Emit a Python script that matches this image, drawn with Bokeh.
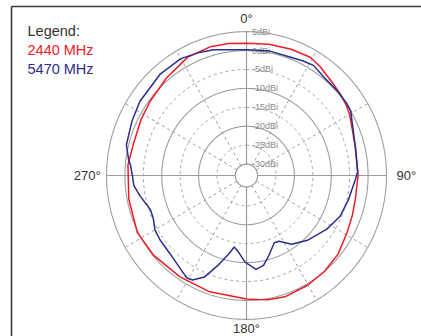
import numpy as np
from bokeh.plotting import figure
from bokeh.models import Range1d
from bokeh.core.properties import value
from bokeh.embed import file_html
from bokeh.resources import INLINE

# ---------------- data ----------------
red_angle = [0, 10, 20, 29, 35, 44, 50, 55, 60, 67, 75, 80, 90, 102, 110, 119,
             130, 140, 150, 162, 170, 175, 180, 198, 214, 230, 243, 259, 275,
             285, 297, 307, 320, 333, 344, 352]
red_db = [1.9, 2.2, 2.5, 2.7, 2.0, 0.8, 0.3, -0.1, -0.7, -1.8, -2.5, -2.8, -2.7,
          -2.8, -2.4, -1.8, -0.6, 0.0, 0.4, 0.7, 0.3, -0.1, -0.4, -0.7, -0.7,
          -0.15, 0.25, -0.45, -0.7, -1.2, -0.8, -0.3, 0.7, 2.1, 2.4, 2.2]

blue_angle = [0, 11, 21, 27, 32, 39, 48, 55, 59, 63, 76, 88, 92, 97, 103, 113,
              123, 136, 146, 153, 157, 164, 169, 174, 181, 186, 190, 193, 198,
              203, 208, 211, 216, 225, 234, 240, 246, 251, 259, 265, 269, 275,
              277, 284, 295, 304, 319, 330, 339, 345, 351]
blue_db = [0.2, 0.47, 0.45, 0.96, 1.3, 0.4, 0.3, 0.2, 0.04, -0.9, -2.5, -2.8,
           -3.4, -4.1, -4.6, -5.4, -7.0, -9.2, -11.1, -13.5, -13.7, -11.0, -8.8,
           -8.05, -10.1, -12.6, -13.8, -11.8, -8.1, -3.9, -1.75, -1.5, -2.5,
           -3.7, -4.0, -4.3, -5.3, -5.4, -3.7, -2.3, -2.1, -1.4, -0.8, 0.6,
           1.26, 1.93, 2.6, 2.65, 1.9, 1.4, 0.6]

ring_db = [5, 0, -5, -10, -15, -20, -25, -30]
ring_labels = ["5dBi", "0dBi", "-5dBi", "-10dBi", "-15dBi", "-20dBi", "-25dBi", "-30dBi"]
ring_dashed = [False, False, True, False, True, False, True, False]
spoke_angles = [0, 30, 60, 90, 120, 150, 180, 210, 240, 270, 300, 330]
axis_angles = [0, 90, 180, 270]
axis_labels = ["0°", "90°", "180°", "270°"]
legend_title = "Legend:"
series_names = ["2440 MHz", "5470 MHz"]
series_colors = ["#ee1c25", "#2b2e8c"]

# ---------------- layout ----------------
OFFSET = 33.0          # plotted radius = dB + OFFSET
R_OUT = ring_db[0] + OFFSET
R_IN = ring_db[-1] + OFFSET
W, H = 421, 336
CX, CY = 246.0, 175.0  # centre of the polar area in figure pixels
SX, SY = 3.684, 3.786  # pixels per radius unit
FONT = "Liberation Sans"
GRID = "#9d9d9d"


def px_x(px):
    return (px - CX) / SX


def px_y(py):
    return (CY - py) / SY


def polar(theta_deg, r):
    t = np.radians(np.asarray(theta_deg, dtype=float))
    r = np.asarray(r, dtype=float)
    return r * np.sin(t), r * np.cos(t)


p = figure(width=W, height=H,
           x_range=Range1d(px_x(0), px_x(W)), y_range=Range1d(px_y(H), px_y(0)),
           output_backend="svg", toolbar_location=None, min_border=0)
p.axis.visible = False
p.grid.visible = False
p.outline_line_color = None
p.background_fill_color = "white"
p.border_fill_color = "white"

# frame lines (left and top)
p.segment(x0=[px_x(11), px_x(11)], y0=[px_y(6), px_y(6)],
          x1=[px_x(11), px_x(W + 5)], y1=[px_y(H + 5), px_y(6)],
          line_color="#3a3a3a", line_width=1.6)

# spokes
for a in spoke_angles:
    xs, ys = polar([a, a], [R_IN, R_OUT])
    if a in axis_angles:
        p.line(xs, ys, line_color=GRID, line_width=1.2)
    else:
        p.line(xs, ys, line_color=GRID, line_width=1, line_dash="3 3")

# rings
theta = np.linspace(0, 360, 721)
for db, dashed in zip(ring_db, ring_dashed):
    xs, ys = polar(theta, np.full_like(theta, db + OFFSET))
    if dashed:
        p.line(xs, ys, line_color=GRID, line_width=1, line_dash="3 3")
    else:
        p.line(xs, ys, line_color=GRID, line_width=1.1)

# inner circle filled white
xs, ys = polar(theta, np.full_like(theta, R_IN))
p.patch(xs, ys, fill_color="white", line_color=GRID, line_width=1.1)

# ring labels
p.text(x=[5.5 / SX] * len(ring_db), y=[d + OFFSET for d in ring_db], text=ring_labels,
       text_font=value(FONT), text_font_size="9px", text_color="#8a8a8a",
       text_align="left", text_baseline="middle")

# series
for ang, db, col in [(red_angle, red_db, series_colors[0]),
                     (blue_angle, blue_db, series_colors[1])]:
    a = list(ang) + [ang[0]]
    r = [d + OFFSET for d in db] + [db[0] + OFFSET]
    xs, ys = polar(a, r)
    p.line(xs, ys, line_color=col, line_width=1.5, line_join="round")

# angle labels
lab_r = [R_OUT + 3.4, R_OUT + 2.7, R_OUT + 2.3, R_OUT + 1.6]
aligns = ["center", "left", "center", "right"]
for ang, lab, rr, al in zip(axis_angles, axis_labels, lab_r, aligns):
    xx, yy = polar([ang], [rr])
    p.text(x=list(xx), y=list(yy), text=[lab], text_font=value(FONT),
           text_font_size="13px", text_color="#333333",
           text_align=al, text_baseline="middle")

# legend texts
leg_texts = [legend_title] + series_names
leg_colors = ["#333333"] + series_colors
for i, (t, c) in enumerate(zip(leg_texts, leg_colors)):
    p.text(x=[px_x(27)], y=[px_y(30 + 19 * i)], text=[t], text_font=value(FONT),
           text_font_size="14.5px", text_color=c,
           text_align="left", text_baseline="alphabetic")

open("out.html", "w").write(file_html(p, INLINE))
